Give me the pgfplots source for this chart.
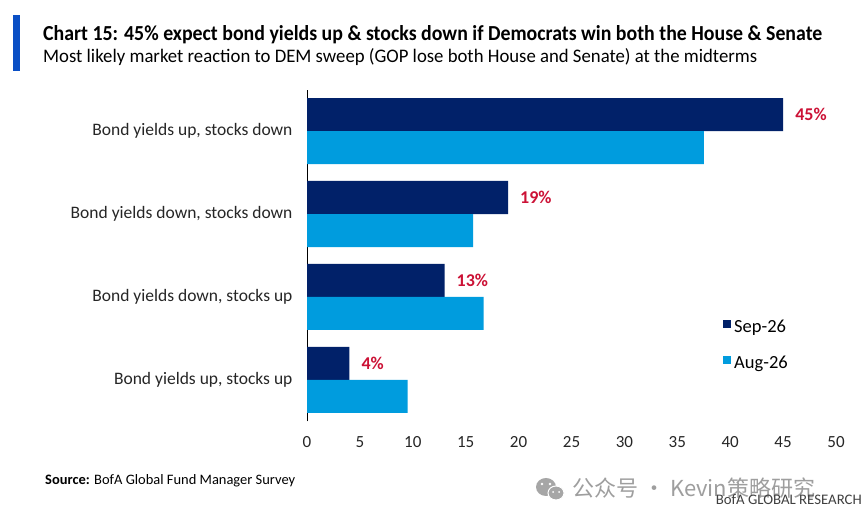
\documentclass[border=0pt]{standalone}
\usepackage{pgfplots}
\pgfplotsset{compat=1.18}
\usepackage{fontspec}
\setmainfont{Carlito}
\newfontfamily\cjk{Noto Sans CJK SC}
\definecolor{navy}{HTML}{012169}
\definecolor{lightblue}{HTML}{009CDE}
\definecolor{labred}{HTML}{CC1236}
\definecolor{bofablue}{HTML}{0A4FC5}
\begin{document}
\begin{tikzpicture}[x=1pt,y=1pt]
\useasboundingbox (0,0) rectangle (865,522);
\fill[white] (0,0) rectangle (865,522);
% title block
\fill[bofablue] (13,451) rectangle (20,507);
\node[anchor=base west, inner sep=0pt] at (43,481)
  {\resizebox{779pt}{15pt}{\fontsize{20}{24}\selectfont\bfseries Chart 15: 45\% expect bond yields up \& stocks down if Democrats win both the House \& Senate}};
\node[anchor=base west, inner sep=0pt] at (43,459)
  {\resizebox{714pt}{14pt}{\fontsize{18}{22}\selectfont Most likely market reaction to DEM sweep (GOP lose both House and Senate) at the midterms}};

\begin{axis}[
  at={(307pt,100.5pt)}, anchor=south west,
  scale only axis, width=529pt, height=332pt,
  xbar, bar width=33pt,
  xmin=0, xmax=50, ymin=-0.5, ymax=3.5,
  xtick={0,5,...,50},
  ytick={0,1,2,3},
  yticklabels={{Bond yields up, stocks up},{Bond yields down, stocks up},{Bond yields down, stocks down},{Bond yields up, stocks down}},
  axis lines*=left,
  x axis line style={draw=none},
  y axis line style={black, line width=1pt},
  major tick length=0pt,
  /pgf/number format/assume math mode=true,
  xticklabel style={font=\fontsize{17}{20}\selectfont, color=black!85, anchor=center, yshift=-21pt},
  yticklabel style={font=\fontsize{17.5}{20}\selectfont, color=black!85, anchor=east, xshift=-11pt},
  legend style={at={(rel axis cs:0.7864,0.307)}, anchor=north west, draw=none, fill=none,
     inner sep=0pt, row sep=22pt, font=\fontsize{18.5}{20}\selectfont,
     nodes={inner sep=0pt}, /tikz/column sep=3pt},
  legend cell align=left,
  legend image code/.code={\fill[#1] (0pt,-1pt) rectangle (8pt,7pt);},
  clip=false,
]
\addplot[fill=navy, draw=none, bar shift=16.5pt,
  nodes near coords={\pgfmathprintnumber{\pgfplotspointmeta}\%},
  nodes near coords style={font=\fontsize{18}{20}\selectfont\bfseries, color=labred, anchor=west, inner sep=0pt, xshift=12pt},
  point meta=explicit symbolic]
  coordinates {(4,0) [4] (13,1) [13] (19,2) [19] (45,3) [45]};
\addlegendentry{Sep-26}
\addplot[fill=lightblue, draw=none, bar shift=-16.5pt]
  coordinates {(9.5,0) (16.7,1) (15.7,2) (37.5,3)};
\addlegendentry{Aug-26}
\end{axis}

% source
\node[anchor=base west, inner sep=0pt, font=\fontsize{13.5}{16}\selectfont] at (45,37)
  {\resizebox{250pt}{10pt}{\textbf{Source:} BofA Global Fund Manager Survey}};
% watermark
\fill[black!35] (546,35) ellipse (10pt and 9pt);
\fill[black!35] (556,29) ellipse (8pt and 7pt);
\draw[white, line width=1pt] (556,29) ellipse (8pt and 7pt);
\fill[white] (542,38) circle (1.3pt) (550,38) circle (1.3pt) (553,30) circle (1pt) (559,30) circle (1pt);
\node[anchor=west, inner sep=0pt, text=black!38, font=\cjk\fontsize{22}{24}\selectfont] at (572,34)
  {公众号 · Kevin策略研究};
\node[anchor=base east, inner sep=0pt] at (862,17)
  {\resizebox{146pt}{10pt}{\color{black!75}\fontsize{14}{16}\selectfont BofA GLOBAL RESEARCH}};
\end{tikzpicture}
\end{document}
